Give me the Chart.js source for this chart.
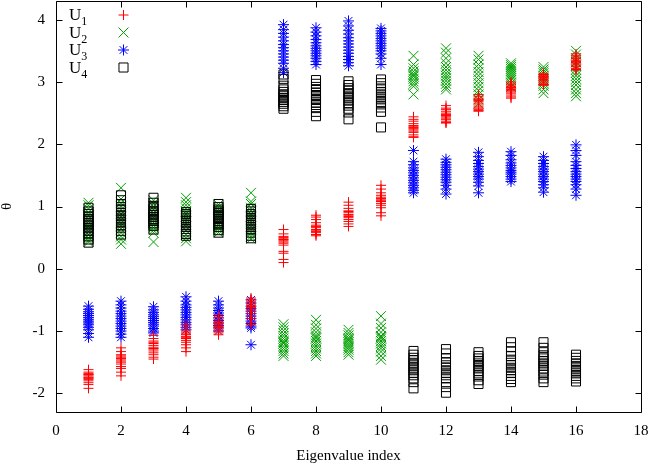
<!DOCTYPE html>
<html><head><meta charset="utf-8">
<script src="https://cdn.jsdelivr.net/npm/chart.js@4.4.1/dist/chart.umd.min.js"></script>
<style>html,body{margin:0;padding:0;background:#fff}#wrap{width:653px;height:466px}</style>
</head><body><div id="wrap"><canvas id="c" width="653" height="466"></canvas></div>
<script>
const indices = [1,2,3,4,5,6,7,8,9,10,11,12,13,14,15,16];
const xTicks = [0,2,4,6,8,10,12,14,16,18];
const yTicks = [-2,-1,0,1,2,3,4];
const seriesBase = ['U','U','U','U'];
const seriesSub = ['1','2','3','4'];
const xTitle = 'Eigenvalue index';
const yTitle = 'θ';

const u1 = [
 [-1.62,-1.68,-1.70,-1.72,-1.74,-1.76,-1.78,-1.80,-1.83,-1.86,-1.70,-1.75,-1.92,-1.66],
 [-1.27,-1.33,-1.38,-1.40,-1.42,-1.45,-1.48,-1.50,-1.53,-1.57,-1.60,-1.66,-1.72,-1.44],
 [-1.07,-1.12,-1.16,-1.20,-1.23,-1.26,-1.29,-1.32,-1.35,-1.38,-1.42,-1.45,-1.28,-1.18],
 [-0.89,-0.95,-1.00,-1.03,-1.06,-1.09,-1.12,-1.15,-1.18,-1.22,-1.27,-1.33,-1.05,-1.10],
 [-0.74,-0.78,-0.82,-0.85,-0.88,-0.90,-0.92,-0.95,-0.98,-1.00,-1.03,-1.06,-0.87,-0.93],
 [-0.47,-0.50,-0.53,-0.55,-0.58,-0.62,-0.65,-0.68,-0.72,-0.76,-0.80,-0.86,-0.90,-0.60],
 [0.63,0.56,0.52,0.50,0.47,0.45,0.43,0.41,0.38,0.28,0.25,0.15,0.10,0.48],
 [0.86,0.83,0.79,0.74,0.70,0.66,0.63,0.60,0.58,0.55,0.53,0.68,0.62],
 [1.07,1.02,0.97,0.93,0.90,0.87,0.84,0.82,0.79,0.76,0.72,0.68,0.86,0.92],
 [1.34,1.28,1.22,1.18,1.15,1.12,1.10,1.08,1.05,1.02,0.98,0.90,0.85,1.13],
 [2.44,2.40,2.37,2.33,2.30,2.27,2.25,2.23,2.21,2.19,2.15,2.11,2.12,2.28],
 [2.62,2.58,2.56,2.53,2.50,2.48,2.46,2.44,2.42,2.40,2.37,2.34,2.35,2.47],
 [2.80,2.77,2.74,2.72,2.69,2.66,2.63,2.60,2.58,2.56,2.54,2.53,2.70],
 [3.00,2.97,2.95,2.93,2.90,2.88,2.86,2.84,2.82,2.79,2.76,2.74,2.91],
 [3.14,3.12,3.10,3.09,3.06,3.04,3.02,3.00,2.98,2.96,2.95,2.95,3.07],
 [3.45,3.42,3.40,3.37,3.34,3.31,3.29,3.27,3.25,3.22,3.20,3.19,3.33,3.38]
];
const u2 = [
 [1.06,1.02,0.96,0.90,0.85,0.80,0.76,0.72,0.68,0.64,0.60,0.55,0.50,0.46,0.43],
 [1.30,1.12,1.06,1.00,0.94,0.88,0.83,0.78,0.73,0.69,0.64,0.58,0.52,0.47,0.40],
 [1.10,1.05,1.00,0.95,0.90,0.86,0.82,0.78,0.74,0.70,0.66,0.62,0.58,0.43],
 [1.14,1.07,1.02,0.97,0.92,0.88,0.84,0.80,0.76,0.72,0.68,0.62,0.55,0.49,0.44],
 [1.03,0.99,0.95,0.91,0.88,0.85,0.82,0.79,0.76,0.73,0.70,0.66,0.62,0.58],
 [1.22,1.08,1.04,0.98,0.93,0.88,0.84,0.80,0.76,0.72,0.68,0.63,0.57,0.52,0.48],
 [-0.89,-0.94,-0.99,-1.04,-1.08,-1.12,-1.16,-1.20,-1.24,-1.28,-1.32,-1.36,-1.40,-1.18],
 [-0.82,-0.90,-0.96,-1.02,-1.07,-1.12,-1.16,-1.20,-1.24,-1.28,-1.32,-1.36,-1.40,-1.10],
 [-0.98,-1.03,-1.07,-1.11,-1.15,-1.18,-1.21,-1.24,-1.27,-1.30,-1.34,-1.38,-1.13],
 [-0.76,-0.88,-0.95,-1.02,-1.08,-1.12,-1.16,-1.20,-1.24,-1.28,-1.33,-1.40,-1.46,-1.10],
 [3.42,3.28,3.22,3.17,3.13,3.09,3.05,3.01,2.97,2.93,2.80,3.11],
 [3.54,3.47,3.38,3.30,3.24,3.19,3.14,3.10,3.06,3.02,2.97,2.92,2.88],
 [3.42,3.36,3.28,3.22,3.16,3.10,3.04,2.98,2.92,2.86,2.80,2.72,2.65],
 [3.30,3.27,3.24,3.21,3.18,3.15,3.12,3.09,3.06,3.03,2.98,2.92],
 [3.24,3.20,3.17,3.14,3.10,3.07,3.04,3.01,2.98,2.94,2.88,2.82],
 [3.50,3.44,3.38,3.32,3.26,3.20,3.15,3.10,3.05,3.00,2.95,2.88,2.82,2.77]
];
const u3 = [
 [-0.60,-0.65,-0.69,-0.72,-0.75,-0.78,-0.81,-0.84,-0.87,-0.90,-0.94,-0.98,-1.04,-1.10],
 [-0.52,-0.58,-0.63,-0.68,-0.72,-0.76,-0.80,-0.84,-0.88,-0.92,-0.96,-1.00,-1.05,-1.10],
 [-0.61,-0.66,-0.70,-0.74,-0.77,-0.80,-0.83,-0.86,-0.89,-0.92,-0.96,-1.00,-1.03],
 [-0.45,-0.52,-0.58,-0.62,-0.66,-0.70,-0.74,-0.78,-0.82,-0.86,-0.90,-0.94,-0.98],
 [-0.52,-0.58,-0.63,-0.67,-0.71,-0.75,-0.79,-0.83,-0.87,-0.91,-0.95,-1.00],
 [-0.50,-0.55,-0.60,-0.64,-0.68,-0.72,-0.76,-0.80,-0.84,-0.88,-0.92,-0.95,-1.22],
 [3.92,3.84,3.78,3.72,3.66,3.60,3.55,3.50,3.45,3.40,3.35,3.30,3.22,3.15],
 [3.87,3.80,3.74,3.68,3.63,3.58,3.54,3.50,3.46,3.42,3.38,3.33,3.28],
 [3.98,3.90,3.83,3.77,3.71,3.66,3.61,3.56,3.51,3.46,3.41,3.36,3.31,3.26],
 [3.86,3.82,3.78,3.74,3.70,3.66,3.62,3.58,3.54,3.50,3.45,3.38,3.28],
 [1.90,1.72,1.67,1.62,1.58,1.54,1.50,1.46,1.42,1.38,1.34,1.30,1.26,1.22],
 [1.76,1.71,1.67,1.63,1.59,1.55,1.51,1.47,1.43,1.39,1.34,1.28,1.20],
 [1.87,1.80,1.74,1.69,1.64,1.60,1.56,1.52,1.48,1.44,1.39,1.33,1.22],
 [1.88,1.82,1.75,1.70,1.66,1.62,1.58,1.55,1.52,1.48,1.44,1.40],
 [1.80,1.74,1.69,1.64,1.60,1.56,1.52,1.48,1.44,1.40,1.35,1.30,1.23],
 [1.99,1.90,1.82,1.72,1.66,1.61,1.56,1.52,1.48,1.44,1.40,1.35,1.28,1.18]
];
const u4 = [
 [0.98,0.92,0.88,0.84,0.80,0.77,0.74,0.71,0.68,0.65,0.61,0.57,0.52,0.47,0.42],
 [1.18,1.10,1.04,0.99,0.94,0.90,0.86,0.82,0.78,0.74,0.70,0.66,0.61,0.55],
 [1.14,1.06,1.01,0.97,0.93,0.89,0.86,0.83,0.80,0.77,0.73,0.69,0.63],
 [0.91,0.88,0.85,0.82,0.79,0.76,0.73,0.70,0.67,0.64,0.60,0.56,0.53],
 [1.04,0.99,0.95,0.92,0.89,0.86,0.83,0.80,0.77,0.74,0.71,0.67,0.62,0.58],
 [0.96,0.92,0.88,0.85,0.82,0.79,0.76,0.73,0.70,0.67,0.63,0.58,0.53,0.49],
 [3.12,3.05,2.94,2.88,2.84,2.80,2.77,2.74,2.71,2.68,2.65,2.61,2.57],
 [3.03,2.97,2.92,2.87,2.83,2.79,2.75,2.71,2.67,2.63,2.58,2.52,2.45],
 [3.01,2.95,2.90,2.86,2.82,2.78,2.74,2.70,2.66,2.62,2.57,2.51,2.40],
 [3.04,2.98,2.93,2.88,2.84,2.80,2.76,2.72,2.68,2.64,2.59,2.52,2.27],
 [-1.32,-1.38,-1.43,-1.47,-1.51,-1.55,-1.59,-1.63,-1.67,-1.71,-1.76,-1.82,-1.92],
 [-1.29,-1.36,-1.44,-1.50,-1.55,-1.59,-1.63,-1.67,-1.71,-1.76,-1.82,-1.90,-1.99],
 [-1.34,-1.40,-1.44,-1.48,-1.52,-1.56,-1.60,-1.64,-1.68,-1.73,-1.79,-1.85],
 [-1.18,-1.26,-1.33,-1.40,-1.46,-1.51,-1.55,-1.59,-1.63,-1.67,-1.72,-1.77,-1.82],
 [-1.18,-1.27,-1.34,-1.39,-1.44,-1.48,-1.52,-1.56,-1.60,-1.65,-1.70,-1.76,-1.82],
 [-1.38,-1.43,-1.48,-1.52,-1.56,-1.60,-1.64,-1.68,-1.72,-1.76,-1.81]
];

function toPoints(groups){
  const pts = [];
  groups.forEach((g,i)=>g.forEach(v=>pts.push({x:indices[i], y:v})));
  return pts;
}

const styles = [
  {pointStyle:'cross', radius:5, color:'rgb(255,0,0)', order:0},
  {pointStyle:'crossRot', radius:7, color:'rgb(0,160,0)', order:3},
  {pointStyle:'star', radius:5.5, color:'rgb(0,0,255)', order:2},
  {pointStyle:'rect', radius:6.4, color:'rgb(0,0,0)', order:1}
];
const allSeries = [u1,u2,u3,u4];
const FONT = "'Liberation Serif', 'DejaVu Serif', serif";

const datasets = allSeries.map((s,i)=>({
  label: seriesBase[i]+seriesSub[i],
  data: toPoints(s),
  order: styles[i].order,
  pointStyle: styles[i].pointStyle,
  pointRadius: styles[i].radius,
  pointHoverRadius: styles[i].radius,
  pointBorderWidth: 1,
  pointHoverBorderWidth: 1,
  borderColor: styles[i].color,
  pointBorderColor: styles[i].color,
  backgroundColor: 'rgba(0,0,0,0)',
  pointBackgroundColor: 'rgba(0,0,0,0)',
  showLine: false
}));

const framePlugin = {
  id:'frame',
  afterDraw(chart){
    const {ctx, chartArea:a, scales:{x,y}} = chart;
    ctx.save();
    ctx.strokeStyle = '#000';
    ctx.lineWidth = 1;
    const L = Math.round(a.left)+0.5, R = Math.round(a.right)+0.5, T = Math.round(a.top)+0.5, B = Math.round(a.bottom)+0.5;
    ctx.beginPath();
    ctx.rect(L, T, R-L, B-T);
    const tl = 6;
    xTicks.forEach(v=>{
      const px = Math.round(x.getPixelForValue(v))+0.5;
      ctx.moveTo(px, B); ctx.lineTo(px, B-tl);
      ctx.moveTo(px, T); ctx.lineTo(px, T+tl);
    });
    yTicks.forEach(v=>{
      const py = Math.round(y.getPixelForValue(v))+0.5;
      ctx.moveTo(L, py); ctx.lineTo(L+tl, py);
      ctx.moveTo(R, py); ctx.lineTo(R-tl, py);
    });
    ctx.stroke();
    // legend
    ctx.textBaseline = 'alphabetic';
    ctx.textAlign = 'left';
    for (let i=0;i<4;i++){
      const base = 20 + i*17.5;
      ctx.font = "17px " + FONT;
      ctx.fillStyle = '#000';
      ctx.fillText(seriesBase[i], 69, base);
      const w = ctx.measureText(seriesBase[i]).width;
      ctx.font = "12px " + FONT;
      ctx.fillText(seriesSub[i], 69 + w, base + 5);
      ctx.strokeStyle = styles[i].color;
      ctx.fillStyle = 'rgba(0,0,0,0)';
      ctx.lineWidth = 1;
      Chart.helpers.drawPoint(ctx, {pointStyle: styles[i].pointStyle, radius: styles[i].radius, borderWidth:1, rotation:0}, 123.5, base - 5);
    }
    ctx.restore();
  }
};

new Chart(document.getElementById('c'), {
  type:'scatter',
  data:{datasets},
  options:{
    responsive:false,
    devicePixelRatio:1,
    animation:false,
    events:[],
    layout:{autoPadding:false, padding:{left:0,right:12,top:1,bottom:0}},
    plugins:{legend:{display:false}, tooltip:{enabled:false}},
    scales:{
      x:{
        type:'linear', min:0, max:18,
        afterBuildTicks(s){ s.ticks = xTicks.map(v=>({value:v})); },
        afterFit(s){ s.height = 54; s.paddingLeft = 0; s.paddingRight = 0; },
        grid:{display:false, drawTicks:false},
        border:{display:false},
        ticks:{color:'#000', font:{family:FONT, size:15}, padding:10, maxRotation:0, autoSkip:false},
        title:{display:true, text:xTitle, color:'#000', font:{family:FONT, size:15, lineHeight:1.2}, padding:{top:0,bottom:1}}
      },
      y:{
        type:'linear', min:-2.3, max:4.3,
        afterBuildTicks(s){ s.ticks = yTicks.map(v=>({value:v})); },
        afterFit(s){ s.width = 56; s.paddingTop = 0; s.paddingBottom = 0; },
        grid:{display:false, drawTicks:false},
        border:{display:false},
        ticks:{color:'#000', font:{family:FONT, size:15}, padding:11, autoSkip:false},
        title:{display:true, text:yTitle, color:'#000', font:{family:FONT, size:15, lineHeight:1}, padding:{top:0,bottom:0}}
      }
    }
  },
  plugins:[framePlugin]
});
</script>
</body></html>
